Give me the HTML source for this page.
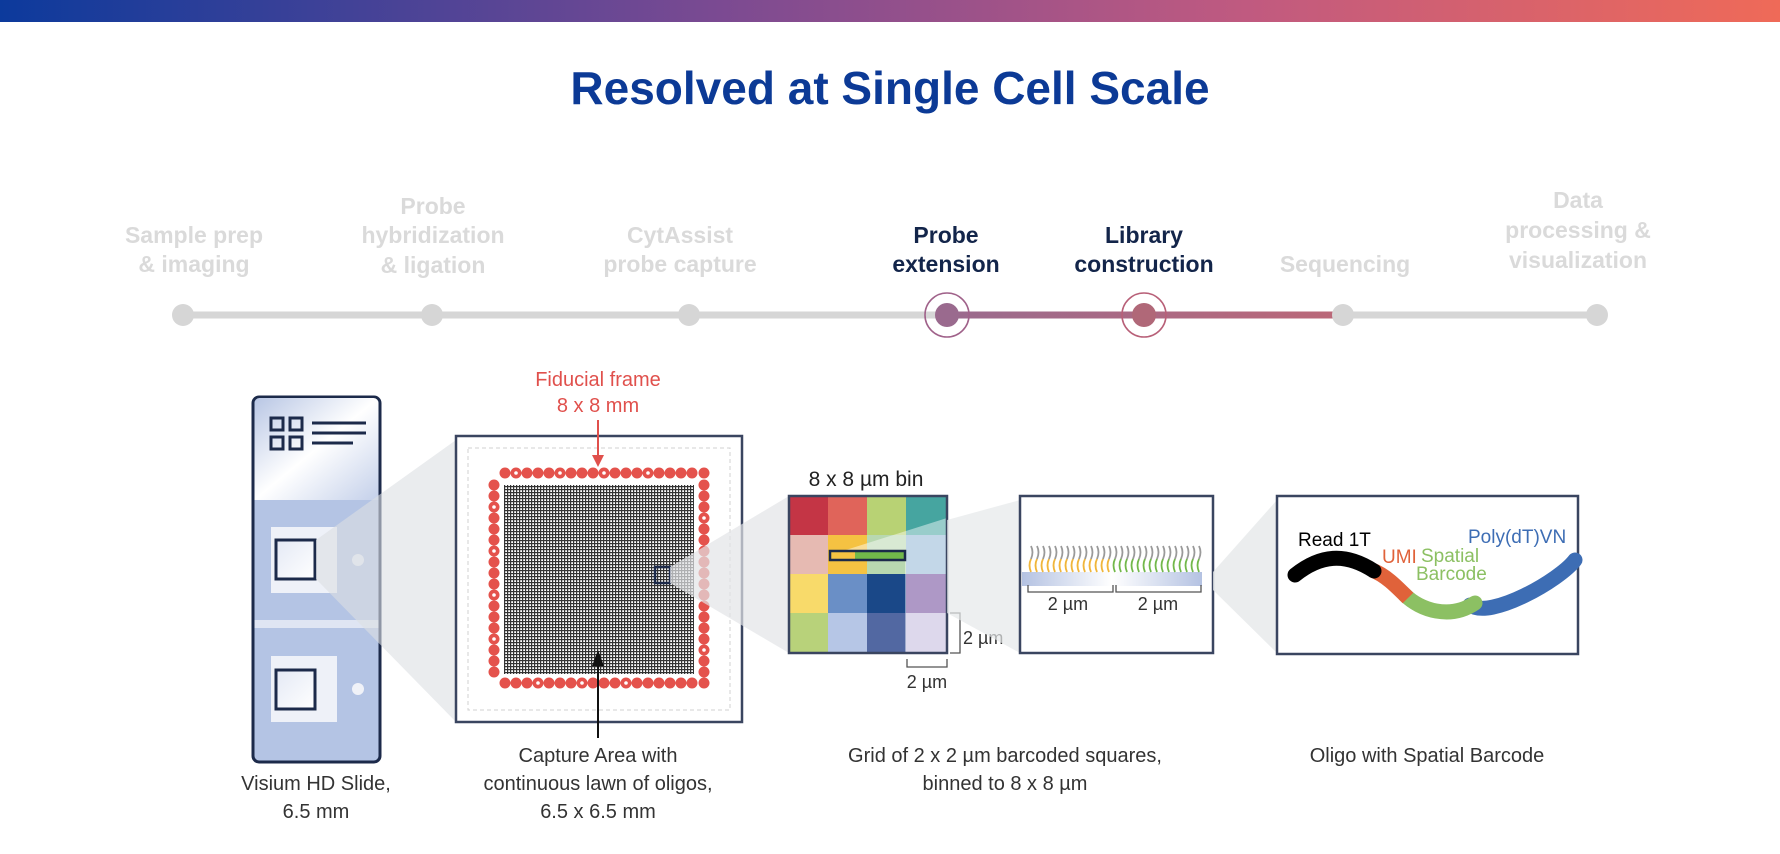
<!DOCTYPE html>
<html><head><meta charset="utf-8"><style>
html,body{margin:0;padding:0;background:#fff;}
svg{display:block;}
text{font-family:"Liberation Sans",Arial,sans-serif;}
</style></head><body>
<svg width="1780" height="854" viewBox="0 0 1780 854" xmlns="http://www.w3.org/2000/svg">
<defs>
<linearGradient id="top" x1="0" x2="1" y1="0" y2="0">
<stop offset="0" stop-color="#0c3a9c"/><stop offset="0.4" stop-color="#7a4a92"/><stop offset="0.7" stop-color="#c05a80"/><stop offset="1" stop-color="#ef6a58"/>
</linearGradient>
<linearGradient id="act" gradientUnits="userSpaceOnUse" x1="947" y1="0" x2="1343" y2="0"><stop offset="0" stop-color="#9a6a8e"/><stop offset="1" stop-color="#bb6878"/></linearGradient>
<linearGradient id="slideTop" x1="0" x2="1" y1="0" y2="1"><stop offset="0" stop-color="#b8c6e4"/><stop offset="0.5" stop-color="#ffffff"/><stop offset="1" stop-color="#c4d0ea"/></linearGradient>
<linearGradient id="sq" x1="0" x2="1" y1="0" y2="1"><stop offset="0" stop-color="#e4e9f5"/><stop offset="1" stop-color="#ffffff"/></linearGradient>
<linearGradient id="band" x1="0" x2="1"><stop offset="0" stop-color="#b4c2e2"/><stop offset="0.5" stop-color="#ffffff"/><stop offset="0.5" stop-color="#ffffff"/><stop offset="1" stop-color="#b4c2e2"/></linearGradient>
<pattern id="grid" width="3" height="3" patternUnits="userSpaceOnUse">
<rect width="3" height="3" fill="#ffffff"/><rect width="3" height="1.2" fill="#333"/><rect width="1.2" height="3" fill="#333"/>
</pattern>
</defs>
<rect x="0" y="0" width="1780" height="22" fill="url(#top)"/>
<text x="890" y="104" text-anchor="middle" font-size="46" font-weight="bold" fill="#0c3a96">Resolved at Single Cell Scale</text>

<!-- timeline -->
<rect x="183" y="311.5" width="1414" height="7" fill="#d6d6d6"/>
<rect x="947" y="311.5" width="396" height="7" fill="url(#act)"/>
<g fill="#d6d6d6">
<circle cx="183" cy="315" r="11"/><circle cx="432" cy="315" r="11"/><circle cx="689" cy="315" r="11"/><circle cx="1343" cy="315" r="11"/><circle cx="1597" cy="315" r="11"/>
</g>
<circle cx="947" cy="315" r="12" fill="#9a6a8e"/><circle cx="947" cy="315" r="22" fill="none" stroke="#a0628a" stroke-width="1.6"/>
<circle cx="1144" cy="315" r="12" fill="#b06878"/><circle cx="1144" cy="315" r="22" fill="none" stroke="#b86078" stroke-width="1.6"/>

<g font-size="23" font-weight="bold" fill="#dadada" text-anchor="middle">
<text x="194" y="243">Sample prep</text><text x="194" y="272">&amp; imaging</text>
<text x="433" y="214">Probe</text><text x="433" y="243">hybridization</text><text x="433" y="273">&amp; ligation</text>
<text x="680" y="243">CytAssist</text><text x="680" y="272">probe capture</text>
<text x="1345" y="272">Sequencing</text>
<text x="1578" y="208">Data</text><text x="1578" y="238">processing &amp;</text><text x="1578" y="268">visualization</text>
</g>
<g font-size="23" font-weight="bold" fill="#13254a" text-anchor="middle">
<text x="946" y="243">Probe</text><text x="946" y="272">extension</text>
<text x="1144" y="243">Library</text><text x="1144" y="272">construction</text>
</g>

<!-- slide -->
<rect x="253" y="397" width="127" height="365" rx="6" fill="#b4c4e4" stroke="#1c2a4a" stroke-width="3"/>
<path d="M254.5 500 V403 a5 5 0 0 1 5 -5 H373.5 a5 5 0 0 1 5 5 V500 Z" fill="url(#slideTop)"/>
<rect x="254.5" y="620" width="124" height="8" fill="#dfe5f3"/>
<g fill="none" stroke="#1c2a4a" stroke-width="3">
<rect x="271" y="418" width="12" height="12"/><rect x="290" y="418" width="12" height="12"/>
<rect x="271" y="437" width="12" height="12"/><rect x="290" y="437" width="12" height="12"/>
<line x1="312" y1="423" x2="366" y2="423"/><line x1="312" y1="433" x2="366" y2="433"/><line x1="312" y1="443" x2="353" y2="443"/>
</g>
<rect x="271" y="527" width="66" height="66" fill="#eef1f8"/>
<rect x="276" y="540" width="39" height="39" fill="url(#sq)" stroke="#1c2a4a" stroke-width="3"/>
<circle cx="358" cy="560" r="6" fill="#e6eaf4"/>
<rect x="271" y="656" width="66" height="66" fill="#eef1f8"/>
<rect x="276" y="670" width="39" height="39" fill="url(#sq)" stroke="#1c2a4a" stroke-width="3"/>
<circle cx="358" cy="689" r="6" fill="#f0f2f8"/>

<!-- beam 1 -->
<polygon points="316,540 456,440 456,722 316,579" fill="#dcdfe3" opacity="0.6"/>

<!-- capture box -->
<rect x="456" y="436" width="286" height="286" fill="#fff" stroke="#3a4560" stroke-width="2.5"/>
<rect x="468" y="448" width="262" height="262" fill="none" stroke="#d0d0d0" stroke-width="1" stroke-dasharray="4 3"/>
<rect x="504" y="485" width="190" height="189" fill="url(#grid)"/>
<g fill="#e4524c">
<circle cx="505" cy="473" r="5.5"/><circle cx="516" cy="473" r="5.5"/><circle cx="527" cy="473" r="5.5"/><circle cx="538" cy="473" r="5.5"/><circle cx="549" cy="473" r="5.5"/><circle cx="560" cy="473" r="5.5"/><circle cx="571" cy="473" r="5.5"/><circle cx="582" cy="473" r="5.5"/><circle cx="593" cy="473" r="5.5"/><circle cx="604" cy="473" r="5.5"/><circle cx="615" cy="473" r="5.5"/><circle cx="626" cy="473" r="5.5"/><circle cx="637" cy="473" r="5.5"/><circle cx="648" cy="473" r="5.5"/><circle cx="659" cy="473" r="5.5"/><circle cx="670" cy="473" r="5.5"/><circle cx="681" cy="473" r="5.5"/><circle cx="692" cy="473" r="5.5"/>
<circle cx="505" cy="683" r="5.5"/><circle cx="516" cy="683" r="5.5"/><circle cx="527" cy="683" r="5.5"/><circle cx="538" cy="683" r="5.5"/><circle cx="549" cy="683" r="5.5"/><circle cx="560" cy="683" r="5.5"/><circle cx="571" cy="683" r="5.5"/><circle cx="582" cy="683" r="5.5"/><circle cx="593" cy="683" r="5.5"/><circle cx="604" cy="683" r="5.5"/><circle cx="615" cy="683" r="5.5"/><circle cx="626" cy="683" r="5.5"/><circle cx="637" cy="683" r="5.5"/><circle cx="648" cy="683" r="5.5"/><circle cx="659" cy="683" r="5.5"/><circle cx="670" cy="683" r="5.5"/><circle cx="681" cy="683" r="5.5"/><circle cx="692" cy="683" r="5.5"/><circle cx="704" cy="683" r="5.5"/>
<circle cx="494" cy="485" r="5.5"/><circle cx="494" cy="496" r="5.5"/><circle cx="494" cy="507" r="5.5"/><circle cx="494" cy="518" r="5.5"/><circle cx="494" cy="529" r="5.5"/><circle cx="494" cy="540" r="5.5"/><circle cx="494" cy="551" r="5.5"/><circle cx="494" cy="562" r="5.5"/><circle cx="494" cy="573" r="5.5"/><circle cx="494" cy="584" r="5.5"/><circle cx="494" cy="595" r="5.5"/><circle cx="494" cy="606" r="5.5"/><circle cx="494" cy="617" r="5.5"/><circle cx="494" cy="628" r="5.5"/><circle cx="494" cy="639" r="5.5"/><circle cx="494" cy="650" r="5.5"/><circle cx="494" cy="661" r="5.5"/><circle cx="494" cy="672" r="5.5"/>
<circle cx="704" cy="473" r="5.5"/><circle cx="704" cy="485" r="5.5"/><circle cx="704" cy="496" r="5.5"/><circle cx="704" cy="507" r="5.5"/><circle cx="704" cy="518" r="5.5"/><circle cx="704" cy="529" r="5.5"/><circle cx="704" cy="540" r="5.5"/><circle cx="704" cy="551" r="5.5"/><circle cx="704" cy="562" r="5.5"/><circle cx="704" cy="573" r="5.5"/><circle cx="704" cy="584" r="5.5"/><circle cx="704" cy="595" r="5.5"/><circle cx="704" cy="606" r="5.5"/><circle cx="704" cy="617" r="5.5"/><circle cx="704" cy="628" r="5.5"/><circle cx="704" cy="639" r="5.5"/><circle cx="704" cy="650" r="5.5"/><circle cx="704" cy="661" r="5.5"/><circle cx="704" cy="672" r="5.5"/>
</g>
<g fill="#fff"><circle cx="516" cy="473" r="1.8"/><circle cx="560" cy="473" r="1.8"/><circle cx="604" cy="473" r="1.8"/><circle cx="648" cy="473" r="1.8"/><circle cx="494" cy="507" r="1.8"/><circle cx="494" cy="551" r="1.8"/><circle cx="494" cy="595" r="1.8"/><circle cx="494" cy="639" r="1.8"/><circle cx="538" cy="683" r="1.8"/><circle cx="582" cy="683" r="1.8"/><circle cx="626" cy="683" r="1.8"/><circle cx="704" cy="518" r="1.8"/><circle cx="704" cy="650" r="1.8"/></g>
<rect x="655" y="567" width="15" height="16" fill="none" stroke="#1c2a4a" stroke-width="2.5"/>
<!-- beam 2 -->
<polygon points="670,567 789,496 789,653 670,583" fill="#e2e4e7" opacity="0.7"/>

<text x="598" y="386" text-anchor="middle" font-size="20" fill="#e0504c">Fiducial frame</text>
<text x="598" y="412" text-anchor="middle" font-size="20" fill="#e0504c">8 x 8 mm</text>
<line x1="598" y1="420" x2="598" y2="458" stroke="#e0504c" stroke-width="2"/>
<polygon points="592,455 604,455 598,467" fill="#e0504c"/>
<line x1="598" y1="662" x2="598" y2="738" stroke="#111" stroke-width="2"/>
<polygon points="592,666 604,666 598,650" fill="#111"/>

<!-- bin -->
<text x="866" y="486" text-anchor="middle" font-size="21" fill="#222">8 x 8 µm bin</text>
<g>
<rect x="789" y="496" width="40" height="40" fill="#c43545"/><rect x="828" y="496" width="40" height="40" fill="#e0645a"/><rect x="867" y="496" width="40" height="40" fill="#b8d274"/><rect x="906" y="496" width="41" height="40" fill="#46a5a0"/>
<rect x="789" y="535" width="40" height="40" fill="#e6bab2"/><rect x="828" y="535" width="40" height="40" fill="#f5c242"/><rect x="867" y="535" width="40" height="40" fill="#b8d8b0"/><rect x="906" y="535" width="41" height="40" fill="#92b6d6"/>
<rect x="789" y="574" width="40" height="40" fill="#f8da6a"/><rect x="828" y="574" width="40" height="40" fill="#6a8fc6"/><rect x="867" y="574" width="40" height="40" fill="#1a4888"/><rect x="906" y="574" width="41" height="40" fill="#6c4498"/>
<rect x="789" y="613" width="40" height="40" fill="#b8d27a"/><rect x="828" y="613" width="40" height="40" fill="#b6c6e6"/><rect x="867" y="613" width="40" height="40" fill="#5268a2"/><rect x="906" y="613" width="41" height="40" fill="#c2b8dc"/>
</g>
<polygon points="830,555 947,518 947,653 905,653 905,560" fill="#ffffff" opacity="0.45"/>
<rect x="789" y="496" width="158" height="157" fill="none" stroke="#3a4560" stroke-width="2.5"/>
<rect x="830" y="551" width="25" height="9" fill="#f5c242"/><rect x="855" y="551" width="50" height="9" fill="#72b84a"/>
<rect x="830" y="551" width="75" height="9" fill="none" stroke="#1c2a4a" stroke-width="2.5"/>
<polyline points="950,613 960,613 960,653 950,653" fill="none" stroke="#555" stroke-width="1.3"/>
<text x="963" y="644" font-size="18" fill="#333">2 µm</text>
<polyline points="907,659 907,667 947,667 947,659" fill="none" stroke="#555" stroke-width="1.3"/>
<text x="927" y="688" text-anchor="middle" font-size="18" fill="#333">2 µm</text>
<!-- beam 3 -->
<polygon points="947,520 1020,500 1020,653 947,613" fill="#e6e8ea" opacity="0.7"/>

<!-- panel 3 -->
<rect x="1020" y="496" width="193" height="157" fill="#fff" stroke="#3a4560" stroke-width="2.5"/>
<rect x="1022" y="572" width="180" height="14" fill="url(#band)"/>
<g fill="none" stroke-width="1.8">
<path d="M1031 546 q3 6 0 13 M1037 546 q3 6 0 13 M1043 546 q3 6 0 13 M1049 546 q3 6 0 13 M1055 546 q3 6 0 13 M1061 546 q3 6 0 13 M1067 546 q3 6 0 13 M1073 546 q3 6 0 13 M1079 546 q3 6 0 13 M1085 546 q3 6 0 13 M1091 546 q3 6 0 13 M1097 546 q3 6 0 13 M1103 546 q3 6 0 13 M1109 546 q3 6 0 13 M1115 546 q3 6 0 13 M1121 546 q3 6 0 13 M1127 546 q3 6 0 13 M1133 546 q3 6 0 13 M1139 546 q3 6 0 13 M1145 546 q3 6 0 13 M1151 546 q3 6 0 13 M1157 546 q3 6 0 13 M1163 546 q3 6 0 13 M1169 546 q3 6 0 13 M1175 546 q3 6 0 13 M1181 546 q3 6 0 13 M1187 546 q3 6 0 13 M1193 546 q3 6 0 13 M1199 546 q3 6 0 13" stroke="#9a9a9a"/>
<path d="M1031 559 q-3 6 0 13 M1037 559 q-3 6 0 13 M1043 559 q-3 6 0 13 M1049 559 q-3 6 0 13 M1055 559 q-3 6 0 13 M1061 559 q-3 6 0 13 M1067 559 q-3 6 0 13 M1073 559 q-3 6 0 13 M1079 559 q-3 6 0 13 M1085 559 q-3 6 0 13 M1091 559 q-3 6 0 13 M1097 559 q-3 6 0 13 M1103 559 q-3 6 0 13 M1109 559 q-3 6 0 13" stroke="#f0b63a"/>
<path d="M1115 559 q-3 6 0 13 M1121 559 q-3 6 0 13 M1127 559 q-3 6 0 13 M1133 559 q-3 6 0 13 M1139 559 q-3 6 0 13 M1145 559 q-3 6 0 13 M1151 559 q-3 6 0 13 M1157 559 q-3 6 0 13 M1163 559 q-3 6 0 13 M1169 559 q-3 6 0 13 M1175 559 q-3 6 0 13 M1181 559 q-3 6 0 13 M1187 559 q-3 6 0 13 M1193 559 q-3 6 0 13 M1199 559 q-3 6 0 13" stroke="#72b84a"/>
</g>
<polyline points="1028,585 1028,592 1113,592 1113,585" fill="none" stroke="#555" stroke-width="1.3"/>
<polyline points="1116,585 1116,592 1201,592 1201,585" fill="none" stroke="#555" stroke-width="1.3"/>
<text x="1068" y="610" text-anchor="middle" font-size="18" fill="#333">2 µm</text>
<text x="1158" y="610" text-anchor="middle" font-size="18" fill="#333">2 µm</text>
<!-- beam 4 -->
<polygon points="1213,572 1277,500 1277,653 1213,590" fill="#e6e8ea" opacity="0.8"/>

<!-- panel 4 -->
<rect x="1277" y="496" width="301" height="158" fill="#fff" stroke="#3a4560" stroke-width="2.5"/>
<g fill="none" stroke-width="15" stroke-linecap="round">
<path d="M1575 560 C1560 580 1490 620 1470 605" stroke="#3d6db4"/>
<path d="M1475 603 C1450 620 1420 610 1405 595" stroke="#8cc063"/>
<path d="M1408 598 C1395 585 1385 575 1372 570" stroke="#e0623a" stroke-linecap="butt"/>
<path d="M1374 571 C1345 552 1320 555 1295 575" stroke="#000"/>
</g>
<text x="1298" y="546" font-size="19" fill="#000">Read 1T</text>
<text x="1382" y="563" font-size="19" fill="#e0623a">UMI</text>
<text x="1421" y="562" font-size="19" fill="#8cc063">Spatial</text>
<text x="1416" y="580" font-size="19" fill="#8cc063">Barcode</text>
<text x="1468" y="543" font-size="19" fill="#3d6db4">Poly(dT)VN</text>

<!-- captions -->
<g font-size="20" fill="#333" text-anchor="middle">
<text x="316" y="790">Visium HD Slide,</text><text x="316" y="818">6.5 mm</text>
<text x="598" y="762">Capture Area with</text><text x="598" y="790">continuous lawn of oligos,</text><text x="598" y="818">6.5 x 6.5 mm</text>
<text x="1005" y="762">Grid of 2 x 2 µm barcoded squares,</text><text x="1005" y="790">binned to 8 x 8 µm</text>
<text x="1427" y="762">Oligo with Spatial Barcode</text>
</g>
</svg>
</body></html>
